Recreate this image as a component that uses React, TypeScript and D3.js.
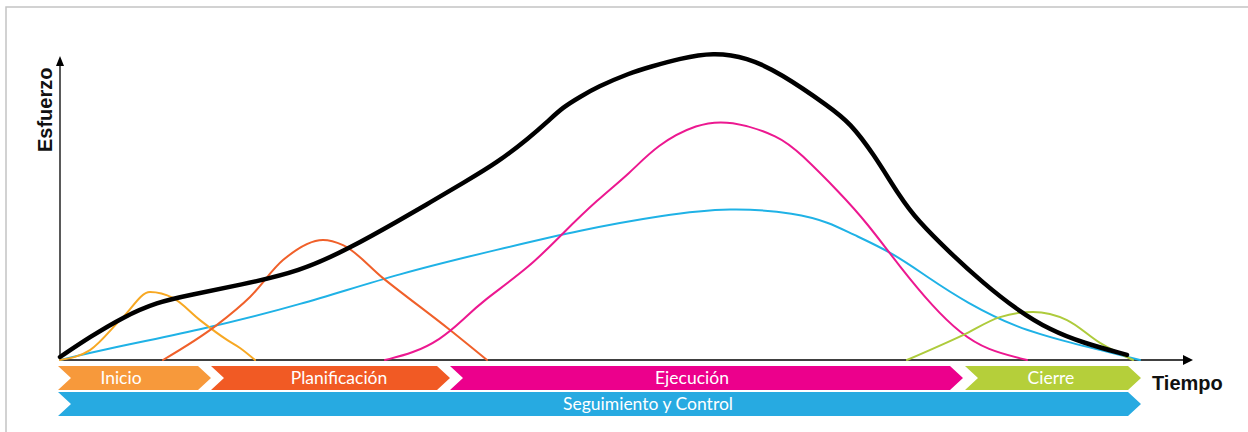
import React, { useEffect, useRef } from 'react'
import * as d3 from 'd3'

// time (t) and effort (v) samples
const totalT = [0, 3, 6.3, 9.7, 13, 18, 24, 29, 34, 37, 40.3, 43.7, 47, 48.7, 50.3, 52, 53.7, 57, 59, 62, 65.3, 68.7, 72, 77, 79, 81.3, 84, 85.7, 89, 92.3, 95.7, 99, 102.3, 106.7]
const totalV = [1, 7.7, 14.3, 19.3, 21.7, 25, 29.5, 37.3, 46.7, 52.5, 59, 65.7, 74.3, 79.3, 84.3, 87.7, 91, 95.7, 97.7, 100.5, 102.5, 100.9, 95.7, 84.3, 79, 69, 54.3, 46.7, 35.7, 25.7, 16.7, 10, 5.7, 1.7]

const inicioT = [0, 3, 6.3, 9, 11.3, 14, 16.7, 18, 19.5]
const inicioV = [0, 3.3, 14.3, 22.7, 20.7, 13.3, 6.7, 4, 0]

const planT = [10.3, 15.7, 19, 22.3, 26.3, 28.3, 32.3, 39, 42.7]
const planV = [0, 11.7, 21, 33.3, 40, 38.3, 27.3, 10, 0]

const ejecT = [32.5, 35.3, 38, 40.3, 42, 47, 50.3, 53.7, 57, 59.7, 63.7, 67, 72, 74, 78, 80.7, 84, 87.3, 90, 92.7, 96.7]
const ejecV = [0, 2.3, 6.7, 13.3, 19, 31, 42.3, 53.3, 62.3, 71.7, 78.8, 80, 74.6, 69, 55.7, 45.7, 31, 17.7, 9, 3.3, 0]

const seguiT = [0, 4, 14, 24, 34, 44, 52, 60.3, 67, 73.7, 77, 79, 83.3, 86.7, 90.7, 95.7, 100.7, 108]
const seguiV = [0, 3.3, 10, 18.3, 29, 37, 43.3, 48.3, 50.9, 49, 45.7, 42.3, 35.7, 27.7, 19, 10.7, 6, 0]

const cierreT = [84.7, 90.3, 94, 97.3, 100.7, 104, 107.3]
const cierreV = [0, 8.3, 14.3, 16, 13.3, 5.7, 0]

// phase bars
const phaseNames = ['Inicio', 'Planificación', 'Ejecución', 'Cierre']
const phaseStart = [-0.2, 15.1, 39, 90.5]
const phaseEnd = [15.1, 39, 90.3, 108.1]
const phaseLabelT = [6.1, 27.9, 63.2, 99.1]
const phaseColors = ['#f7993b', '#f15a24', '#ec008c', '#b5cf3a']

const controlName = 'Seguimiento y Control'
const controlLabelT = 58.8

const Chart: React.FC = () => {
  const svgRef = useRef<SVGSVGElement>(null)

  useEffect(() => {
    const width = 1248
    const height = 432
    const svg = d3.select(svgRef.current)
    svg.selectAll('*').remove()
    svg.attr('width', width).attr('height', height)

    const x = d3.scaleLinear().domain([0, 113]).range([60, 1190])
    const y = d3.scaleLinear().domain([0, 110]).range([360, 30])

    // marco gris
    svg.append('path')
      .attr('d', `M6,${height} L6,7 L${width},7`)
      .attr('fill', 'none')
      .attr('stroke', '#c4c4c4')
      .attr('stroke-width', 1.5)

    // ejes
    const x0 = x(0)
    const y0 = y(0)
    const yTop = y(101.3)
    const xEnd = x(113.3)
    svg.append('line')
      .attr('x1', x0).attr('x2', x0).attr('y1', y0).attr('y2', yTop + 8)
      .attr('stroke', '#000').attr('stroke-width', 1.3)
    svg.append('path')
      .attr('d', `M${x0},${yTop} L${x0 - 4},${yTop + 10} L${x0 + 4},${yTop + 10} Z`)
      .attr('fill', '#000')
    svg.append('line')
      .attr('x1', x0).attr('x2', xEnd - 8).attr('y1', y0).attr('y2', y0)
      .attr('stroke', '#000').attr('stroke-width', 1.3)
    svg.append('path')
      .attr('d', `M${xEnd},${y0} L${xEnd - 10},${y0 - 5} L${xEnd - 10},${y0 + 5} Z`)
      .attr('fill', '#000')

    const sharp = d3.line<[number, number]>()
      .x(d => x(d[0]))
      .y(d => y(d[1]))
      .curve(d3.curveMonotoneX)

    const soft = d3.line<[number, number]>()
      .x(d => x(d[0]))
      .y(d => y(d[1]))
      .curve(d3.curveBasis)

    const series: { t: number[]; v: number[]; color: string; w: number; basis: boolean }[] = [
      { t: seguiT, v: seguiV, color: '#1fb2e6', w: 2, basis: true },
      { t: inicioT, v: inicioV, color: '#f7a823', w: 2, basis: false },
      { t: planT, v: planV, color: '#f0602a', w: 2, basis: false },
      { t: ejecT, v: ejecV, color: '#ec1890', w: 2, basis: true },
      { t: cierreT, v: cierreV, color: '#aecb3c', w: 2, basis: false },
      { t: totalT, v: totalV, color: '#000', w: 4.5, basis: true },
    ]

    series.forEach(s => {
      const pts = s.t.map((t, i) => [t, s.v[i]] as [number, number])
      svg.append('path')
        .datum(pts)
        .attr('fill', 'none')
        .attr('stroke', s.color)
        .attr('stroke-width', s.w)
        .attr('stroke-linecap', 'round')
        .attr('d', s.basis ? soft : sharp)
    })

    // barras tipo chevron
    const d = 13
    const chevron = (a: number, b: number, top: number, bot: number) => {
      const xa = x(a)
      const xb = x(b)
      const mid = (top + bot) / 2
      return `M${xa},${top} L${xb - d},${top} L${xb},${mid} L${xb - d},${bot} L${xa},${bot} L${xa + d},${mid} Z`
    }

    const row1 = [366, 390]
    const row2 = [392, 416]
    const font = 'Lato, "Open Sans", sans-serif'

    phaseNames.forEach((name, i) => {
      svg.append('path')
        .attr('d', chevron(phaseStart[i], phaseEnd[i], row1[0], row1[1]))
        .attr('fill', phaseColors[i])
      svg.append('text')
        .attr('x', x(phaseLabelT[i]))
        .attr('y', (row1[0] + row1[1]) / 2)
        .attr('dy', '0.36em')
        .attr('text-anchor', 'middle')
        .attr('font-family', font)
        .attr('font-size', 17.5)
        .attr('fill', '#fff')
        .text(name)
    })

    svg.append('path')
      .attr('d', chevron(phaseStart[0], phaseEnd[3], row2[0], row2[1]))
      .attr('fill', '#27aae1')
    svg.append('text')
      .attr('x', x(controlLabelT))
      .attr('y', (row2[0] + row2[1]) / 2)
      .attr('dy', '0.36em')
      .attr('text-anchor', 'middle')
      .attr('font-family', font)
      .attr('font-size', 17.5)
      .attr('fill', '#fff')
      .text(controlName)

    // títulos de ejes
    svg.append('text')
      .attr('transform', 'translate(52,152) rotate(-90)')
      .attr('font-family', '"Liberation Sans", Arial, sans-serif')
      .attr('font-weight', 'bold')
      .attr('font-size', 20)
      .attr('fill', '#111')
      .text('Esfuerzo')

    svg.append('text')
      .attr('x', 1152)
      .attr('y', 390)
      .attr('font-family', '"Liberation Sans", Arial, sans-serif')
      .attr('font-weight', 'bold')
      .attr('font-size', 20)
      .attr('fill', '#111')
      .text('Tiempo')
  }, [])

  return <svg ref={svgRef} style={{ position: 'absolute', left: 0, top: 0, background: '#fff' }}></svg>
}

export default function App() {
  return <Chart />
}
